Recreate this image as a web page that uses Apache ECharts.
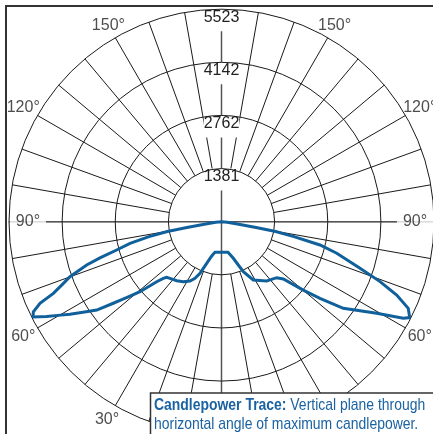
<!DOCTYPE html>
<html><head><meta charset="utf-8">
<script src="https://cdn.jsdelivr.net/npm/echarts@6/dist/echarts.min.js"></script>
<style>html,body{margin:0;padding:0;background:#fff}#c{width:433px;height:434px}</style>
</head><body><div id="c"></div>
<script>
// ---- data (angles in degrees from nadir, candela) ----
const radiusTicks = [1381, 2762, 4142, 5523];
const angleTickLabels = [30, 60, 90, 120, 150];
const leftAngles = [0, 6, 12, 15.1, 17.4, 21.3, 22.6, 25.1, 28, 32.5, 37.2, 42.3, 44.6, 45.8, 47.2, 49.35, 50.9, 52.2, 53, 54.7, 56.8, 58.6, 60.2, 61.5, 63.2, 64.4, 65.8, 66.9, 68.4, 70.05, 72.2, 73.4, 74.9, 76.7, 78.4, 79.8, 80.6, 82, 85.5, 90];
const leftValues = [795, 800, 813, 897, 997, 1300, 1453, 1624, 1745, 1849, 1925, 1989, 2029, 2110, 2295, 2792, 3064, 3338, 3522, 3973, 4301, 4615, 4899, 5170, 5490, 5422, 5172, 4751, 4460, 4190, 3680, 3296, 2822, 2443, 1923, 1430, 910, 416, 150, 0];
const rightAngles = [0, 6, 12, 17.9, 21.2, 23.6, 28.6, 37.3, 44.6, 47.2, 50.1, 52.1, 54.6, 59.45, 62, 63, 65.1, 67.3, 69.3, 71.4, 74.7, 76.7, 78.4, 79.8, 80.6, 82, 85.5, 90];
const rightValues = [795, 800, 813, 1000, 1207, 1418, 1726, 1938, 2044, 2190, 2770, 3243, 3884, 4684, 5350, 5490, 5351, 4936, 4405, 3798, 3105, 2630, 1923, 1430, 910, 416, 150, 0];
const captionBold = 'Candlepower Trace:';
const captionRest = ' Vertical plane through';
const captionLine2 = 'horizontal angle of maximum candlepower.';

// ---- layout / style ----
const FONT = '"Liberation Sans", Arial, sans-serif';
const CX = 221.5, CY = 221.7, R = 212.5;
const maxV = radiusTicks[radiusTicks.length - 1];
const step = maxV / radiusTicks.length;
const innerR = R * step / maxV;
const TRACE = '#10609c';
const TEXTBLUE = '#1a62a2';
const LABEL = '#222';
const LABEL_SIZE = 16;

// closed trace: left horizontal -> nadir -> right horizontal
const trace = [];
for (let i = leftAngles.length - 1; i >= 0; i--) trace.push([leftValues[i], 180 + leftAngles[i]]);
for (let i = 1; i < rightAngles.length; i++) trace.push([rightValues[i], 180 - rightAngles[i]]);

const labelRadius = a => a === 90 ? 5030 : (a === 150 ? 5880 : 5950);
const labelData = [];
angleTickLabels.forEach(a => {
  [180 + a, 180 - a].forEach(ang => {
    const d = { name: a + '°', value: [labelRadius(a), ang] };
    if (a === 90) d.label = { backgroundColor: '#fff', padding: [2, 6] };
    labelData.push(d);
  });
});

const chart = echarts.init(document.getElementById('c'), null, { renderer: 'canvas' });
chart.setOption({
  animation: false,
  backgroundColor: '#fff',
  polar: [
    { center: [CX, CY], radius: [innerR, R] },
    { center: [CX, CY], radius: [0, R] }
  ],
  angleAxis: [
    { polarIndex: 0, type: 'value', min: 0, max: 360, interval: 10, startAngle: 90, clockwise: true, z: 1,
      axisLine: { show: false }, axisTick: { show: false }, axisLabel: { show: false },
      splitLine: { show: true, lineStyle: { color: '#1a1a1a', width: 1 } } },
    { polarIndex: 1, type: 'value', min: 0, max: 360, interval: 90, startAngle: 90, clockwise: true, z: 1,
      axisLine: { show: false }, axisTick: { show: false }, axisLabel: { show: false },
      splitLine: { show: true, lineStyle: { color: '#555', width: 1.5 } } }
  ],
  radiusAxis: [
    { polarIndex: 0, type: 'value', min: step, max: maxV, interval: step, z: 4,
      axisLine: { show: false }, axisTick: { show: false }, axisLabel: { show: false },
      splitLine: { show: true, lineStyle: { color: '#1a1a1a', width: 1 } } },
    { polarIndex: 1, type: 'value', min: 0, max: maxV, interval: step, z: 3,
      axisLine: { show: false }, axisTick: { show: false }, splitLine: { show: false },
      axisLabel: { show: true, showMinLabel: false, margin: 0, align: 'center', verticalAlign: 'top',
        color: LABEL, fontSize: LABEL_SIZE, fontFamily: FONT, backgroundColor: '#fff', padding: [0, 0, 6, 0],
        formatter: v => { const k = Math.round(v / step); return k > 0 ? String(radiusTicks[k - 1]) : ''; } } }
  ],
  series: [
    { type: 'line', coordinateSystem: 'polar', polarIndex: 1, data: trace, symbol: 'none', smooth: false,
      z: 6, silent: true, clip: false, lineStyle: { color: TRACE, width: 3, join: 'miter' } },
    { type: 'scatter', coordinateSystem: 'polar', polarIndex: 1, data: labelData, symbol: 'circle', symbolSize: 1,
      z: 3, silent: true, clip: false, itemStyle: { color: 'rgba(0,0,0,0)' },
      label: { show: true, position: 'inside', formatter: p => p.name, color: LABEL, fontSize: LABEL_SIZE, fontFamily: FONT } }
  ],
  graphic: [
    { type: 'rect', z: 100, silent: true, shape: { x: 6, y: 6, width: 700, height: 700 },
      style: { fill: 'none', stroke: '#333', lineWidth: 2 } },
    { type: 'rect', z: 100, silent: true, shape: { x: 150.5, y: 393, width: 400, height: 100 },
      style: { fill: '#fff', stroke: '#333', lineWidth: 1.5 } },
    { type: 'text', z: 101, silent: true, x: 154, y: 396, scaleX: 0.82,
      style: { text: '{b|' + captionBold + '}' + captionRest + '\n' + captionLine2,
        fill: TEXTBLUE, fontSize: 17, fontFamily: FONT, lineHeight: 19, verticalAlign: 'top',
        rich: { b: { fontWeight: 'bold', fontSize: 17, fontFamily: FONT, fill: TEXTBLUE, lineHeight: 19 } } } }
  ]
});
</script></body></html>
